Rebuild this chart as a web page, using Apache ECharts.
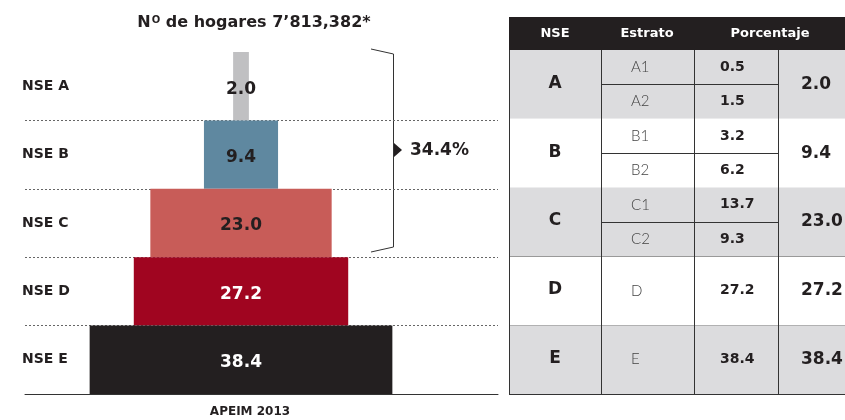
<!DOCTYPE html>
<html>
<head>
<meta charset="utf-8">
<script src="https://cdn.jsdelivr.net/npm/echarts@6/dist/echarts.min.js"></script>
<style>
  html, body { margin: 0; padding: 0; background: #fff; }
  #main { width: 845px; height: 420px; }
</style>
</head>
<body>
<div id="main"></div>
<script>
// niveles socioeconomicos (piramide)
var levels = ['NSE A', 'NSE B', 'NSE C', 'NSE D', 'NSE E'];
var shares = [2.0, 9.4, 23.0, 27.2, 38.4];

// tabla
var nseLetters = ['A', 'B', 'C', 'D', 'E'];
var estratos = [['A1', 'A2'], ['B1', 'B2'], ['C1', 'C2'], ['D'], ['E']];
var estratoShares = [[0.5, 1.5], [3.2, 6.2], [13.7, 9.3], [27.2], [38.4]];
var headers = ['NSE', 'Estrato', 'Porcentaje'];

var barColors = ['#c0c0c2', '#5f88a0', '#c85c58', '#a00520', '#231f20'];
var labelColors = ['#231f20', '#231f20', '#231f20', '#ffffff', '#ffffff'];

var heavy = '"DejaVu Sans"';
var ink = '#231f20';
var center = 27.4; // eje x: centro de la piramide

function tableGraphics() {
    var g = [];
    var left = 509, right = 845, top = 50, bottom = 394;
    var cols = [509, 601, 694, 778];
    var rowH = (bottom - top) / nseLetters.length;

    g.push({type: 'rect', shape: {x: left, y: 17, width: right - left, height: 33}, style: {fill: ink}});
    var hx = [555, 647, 770];
    for (var h = 0; h < headers.length; h++) {
        g.push({type: 'text', x: hx[h], y: 34, style: {text: headers[h], fill: '#fff', font: 'bold 13px ' + heavy, align: 'center', verticalAlign: 'middle'}});
    }

    for (var i = 0; i < nseLetters.length; i++) {
        var y0 = top + i * rowH;
        g.push({type: 'rect', shape: {x: left, y: y0, width: right - left, height: rowH},
            style: {fill: i % 2 === 0 ? '#dcdcde' : '#ffffff'}});
        g.push({type: 'text', x: 555, y: y0 + rowH / 2 - 1, style: {text: nseLetters[i], fill: ink, font: 'bold 17px ' + heavy, align: 'center', verticalAlign: 'middle'}});
        var n = estratos[i].length;
        var subH = rowH / n;
        for (var j = 0; j < n; j++) {
            var cy = y0 + subH * (j + 0.5);
            g.push({type: 'text', x: 631, y: cy, style: {text: estratos[i][j], fill: '#444', font: '300 15px Lato', align: 'left', verticalAlign: 'middle'}});
            g.push({type: 'text', x: 720, y: cy, style: {text: estratoShares[i][j].toFixed(1), fill: ink, font: 'bold 14px ' + heavy, align: 'left', verticalAlign: 'middle'}});
            if (j > 0) {
                var sy = Math.round(y0 + subH * j) + 0.5;
                g.push({type: 'line', shape: {x1: cols[1], y1: sy, x2: cols[3], y2: sy}, style: {stroke: '#333', lineWidth: 1}});
            }
        }
        g.push({type: 'text', x: 801, y: y0 + rowH / 2, style: {text: shares[i].toFixed(1), fill: ink, font: 'bold 17px ' + heavy, align: 'left', verticalAlign: 'middle'}});
        var ly = Math.round(y0 + rowH) + 0.5;
        g.push({type: 'line', shape: {x1: left, y1: ly, x2: right, y2: ly}, style: {stroke: '#333', lineWidth: 1}});
    }
    for (var c = 0; c < cols.length; c++) {
        g.push({type: 'line', shape: {x1: cols[c] + 0.5, y1: top, x2: cols[c] + 0.5, y2: bottom}, style: {stroke: '#333', lineWidth: 1}});
    }
    return g;
}

var topThree = shares[0] + shares[1] + shares[2];

var graphics = [
    {type: 'text', x: 254, y: 23, style: {
        text: '{n|N}{o|O}{n| de hogares 7’813,382*}',
        align: 'center', verticalAlign: 'middle',
        rich: {
            n: {font: 'bold 16px ' + heavy, fill: ink},
            o: {font: 'bold 10px ' + heavy, fill: ink, verticalAlign: 'top', padding: [0, 0, 6, 1]}
        }
    }},
    {type: 'text', x: 250, y: 412, style: {text: 'APEIM 2013', fill: ink, font: 'bold 12px ' + heavy, align: 'center', verticalAlign: 'middle'}},
    {type: 'polyline', shape: {points: [[371, 49], [393.5, 54], [393.5, 247], [371, 252]]}, style: {stroke: '#333', lineWidth: 1, fill: null}},
    {type: 'polygon', shape: {points: [[394, 143], [402, 150], [394, 157]]}, style: {fill: ink}},
    {type: 'text', x: 410, y: 151, style: {text: topThree.toFixed(1) + '%', fill: ink, font: 'bold 17px ' + heavy, align: 'left', verticalAlign: 'middle'}}
].concat(tableGraphics());

var chart = echarts.init(document.getElementById('main'));

var option = {
    animation: false,
    grid: {left: 25, right: 347, top: 52, bottom: 26},
    xAxis: {
        type: 'value', min: 0, max: 60,
        axisLine: {show: true, lineStyle: {color: '#333', width: 1}},
        axisTick: {show: false}, axisLabel: {show: false}, splitLine: {show: false}
    },
    yAxis: {
        type: 'category', inverse: true, data: levels,
        axisLine: {show: false}, axisTick: {show: false},
        axisLabel: {align: 'left', margin: 3, color: ink, fontFamily: heavy, fontWeight: 'bold', fontSize: 14, padding: [4, 0, 0, 0]},
        splitLine: {show: true, showMinLine: false, showMaxLine: false, lineStyle: {color: '#666', type: [2, 2], width: 1}}
    },
    series: [{
        type: 'bar', stack: 'p', silent: true, barCategoryGap: '0%',
        itemStyle: {color: 'transparent'},
        data: shares.map(function (v) { return center - v / 2; })
    }, {
        type: 'bar', stack: 'p', barCategoryGap: '0%',
        label: {show: true, position: 'inside', offset: [0, 3], fontFamily: heavy, fontWeight: 'bold', fontSize: 17,
            formatter: function (p) { return p.value.toFixed(1); }},
        data: shares.map(function (v, i) {
            return {value: v, itemStyle: {color: barColors[i]}, label: {color: labelColors[i]}};
        })
    }],
    graphic: graphics
};

chart.setOption(option);
</script>
</body>
</html>
